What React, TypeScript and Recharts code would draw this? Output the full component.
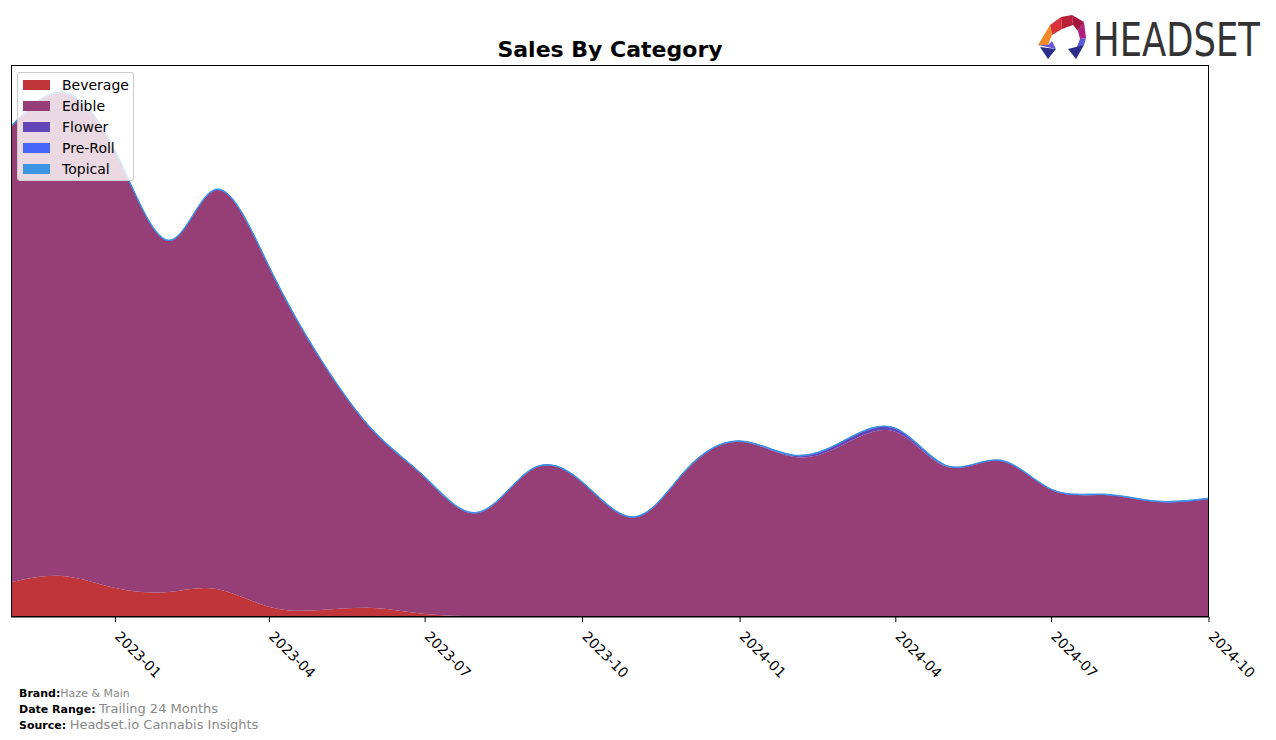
import React from "react";
import { AreaChart, Area, XAxis, YAxis } from "recharts";

const months = [
  "2022-11", "2022-12", "2023-01", "2023-02", "2023-03", "2023-04",
  "2023-05", "2023-06", "2023-07", "2023-08", "2023-09", "2023-10",
  "2023-11", "2023-12", "2024-01", "2024-02", "2024-03", "2024-04",
  "2024-05", "2024-06", "2024-07", "2024-08", "2024-09", "2024-10",
];

const beverage = [35, 41, 29, 25, 28, 10, 7, 9, 3, 1, 1, 1, 0.6, 0.5, 0.3, 0.2, 0, 0, 0, 0, 0, 0, 0, 0];
const edible = [455, 483, 436, 351, 399, 339, 250, 176, 136, 103, 146, 133, 99, 147, 175, 160, 172, 185, 150, 156, 127, 122, 115, 118];
const flower = [0, 0, 0, 0, 0, 0, 0, 0, 0, 0, 0, 0, 0, 0, 0, 1, 3, 3, 0.5, 0, 0, 0, 0, 0];
const preRoll = [0.4, 0.4, 0.4, 0.4, 0.4, 0.4, 0.4, 0.4, 0.4, 0.4, 0.4, 0.4, 0.4, 0.4, 0.4, 0.4, 0.4, 0.4, 0.4, 0.4, 0.4, 0.4, 0.4, 0.4];
const topical = [0.4, 0.4, 0.4, 0.4, 0.4, 0.4, 0.4, 0.4, 0.4, 0.4, 0.4, 0.4, 0.4, 0.4, 0.4, 0.4, 0.4, 0.4, 0.4, 0.4, 0.4, 0.4, 0.4, 0.4];

const tickLabels = ["2023-01", "2023-04", "2023-07", "2023-10", "2024-01", "2024-04", "2024-07", "2024-10"];

const toTime = (ym: string) => {
  const [y, m] = ym.split("-").map(Number);
  return Date.UTC(y, m - 1, 1);
};

const data = months.map((m, i) => ({
  t: toTime(m),
  Beverage: beverage[i],
  Edible: edible[i],
  Flower: flower[i],
  "Pre-Roll": preRoll[i],
  Topical: topical[i],
}));

const series = [
  { key: "Beverage", color: "#c0353a" },
  { key: "Edible", color: "#953f76" },
  { key: "Flower", color: "#6345b8" },
  { key: "Pre-Roll", color: "#4467f5" },
  { key: "Topical", color: "#3a95e0" },
];

const font = "'DejaVu Sans', sans-serif";

const RotatedTick = ({ x, y, payload }: any) => {
  const d = new Date(payload.value);
  const label = `${d.getUTCFullYear()}-${String(d.getUTCMonth() + 1).padStart(2, "0")}`;
  const tx = x + 6;
  const ty = y + 6;
  return (
    <text
      x={tx}
      y={ty}
      transform={`rotate(45, ${tx}, ${ty})`}
      textAnchor="start"
      dominantBaseline="hanging"
      fontSize={14}
      fontFamily={font}
      fill="#000"
    >
      {label}
    </text>
  );
};

const LegendBox = () => (
  <div
    style={{
      position: "absolute",
      left: 17,
      top: 72,
      width: 117,
      height: 109,
      boxSizing: "border-box",
      background: "rgba(255,255,255,0.8)",
      border: "1px solid #cccccc",
      borderRadius: 3,
      fontFamily: font,
      fontSize: 14,
      color: "#000",
    }}
  >
    {series.map((s, i) => (
      <div key={s.key} style={{ position: "absolute", left: 5, top: 4 + i * 21, height: 16, display: "flex", alignItems: "center", whiteSpace: "nowrap" }}>
        <span style={{ display: "inline-block", width: 27, height: 10, background: s.color, marginRight: 12 }} />
        <span>{s.key}</span>
      </div>
    ))}
  </div>
);

const Logo = () => (
  <svg width={246} height={75} style={{ position: "absolute", left: 1030, top: 5 }}>
    <polygon points="20,20 31,12 32,24 22,30" fill="#d8323a" />
    <polygon points="31,12 42,10 43,20 32,24" fill="#b8203a" />
    <polygon points="42,10 54,17 48,26 43,20" fill="#a5173f" />
    <polygon points="54,17 56,33 50,34 48,26" fill="#b01e7e" />
    <polygon points="20,20 22,30 18,40 8,40" fill="#f28a2a" />
    <polygon points="8,40 18,40 22,36 26,44" fill="#6a5ad8" />
    <polygon points="10,42 26,44 18,54" fill="#2c2c8a" />
    <polygon points="56,33 50,34 46,44 54,40" fill="#5a5ad8" />
    <polygon points="38,44 54,40 46,54" fill="#2c2c8a" />
    <text
      x={63}
      y={0}
      transform="translate(0, 51) scale(1, 1.3)"
      fontFamily="'DejaVu Sans Condensed', 'Liberation Sans Narrow', sans-serif"
      fontSize={36}
      fill="#333333"
      textLength={167}
      lengthAdjust="spacingAndGlyphs"
    >
      HEADSET
    </text>
  </svg>
);

export default function App() {
  return (
    <div style={{ position: "absolute", left: 0, top: 0, width: 1276, height: 740, background: "#fff", fontFamily: font }}>
      <div
        style={{
          position: "absolute",
          left: 11,
          width: 1198,
          top: 37,
          textAlign: "center",
          fontWeight: "bold",
          fontSize: 22,
          fontFamily: font,
        }}
      >
        Sales By Category
      </div>
      <AreaChart
        width={1276}
        height={740}
        data={data}
        margin={{ top: 65, left: 11, right: 67, bottom: 63 }}
        style={{ position: "absolute", left: 0, top: 0 }}
      >
        <XAxis
          dataKey="t"
          type="number"
          scale="time"
          domain={[toTime(months[0]), toTime(months[months.length - 1])]}
          ticks={tickLabels.map(toTime)}
          tick={<RotatedTick />}
          tickLine={{ stroke: "#000" }}
          tickSize={5}
          axisLine={{ stroke: "#000" }}
          height={60}
          interval={0}
          allowDataOverflow
        />
        <YAxis domain={[0, 552]} width={0} tick={false} tickLine={false} axisLine={{ stroke: "#000" }} allowDataOverflow />
        {series.map((s) => (
          <Area
            key={s.key}
            dataKey={s.key}
            stackId="1"
            type="natural"
            fill={s.color}
            fillOpacity={1}
            stroke={s.key === "Topical" || s.key === "Pre-Roll" ? s.color : "none"}
            strokeWidth={s.key === "Topical" ? 1.2 : 1}
            isAnimationActive={false}
          />
        ))}
      </AreaChart>
      <div
        style={{
          position: "absolute",
          left: 11,
          top: 65,
          width: 1198,
          height: 552,
          boxSizing: "border-box",
          border: "1px solid #000",
          pointerEvents: "none",
        }}
      />
      <Logo />
      <LegendBox />
      <div style={{ position: "absolute", left: 19, top: 686, fontFamily: font, fontSize: 11, lineHeight: "15px" }}>
        <div>
          <b>Brand:</b>
          <span style={{ color: "#888" }}>Haze &amp; Main</span>
        </div>
        <div>
          <b>Date Range:</b> <span style={{ color: "#888", fontSize: 13 }}>Trailing 24 Months</span>
        </div>
        <div>
          <b>Source:</b> <span style={{ color: "#888", fontSize: 13 }}>Headset.io Cannabis Insights</span>
        </div>
      </div>
    </div>
  );
}
